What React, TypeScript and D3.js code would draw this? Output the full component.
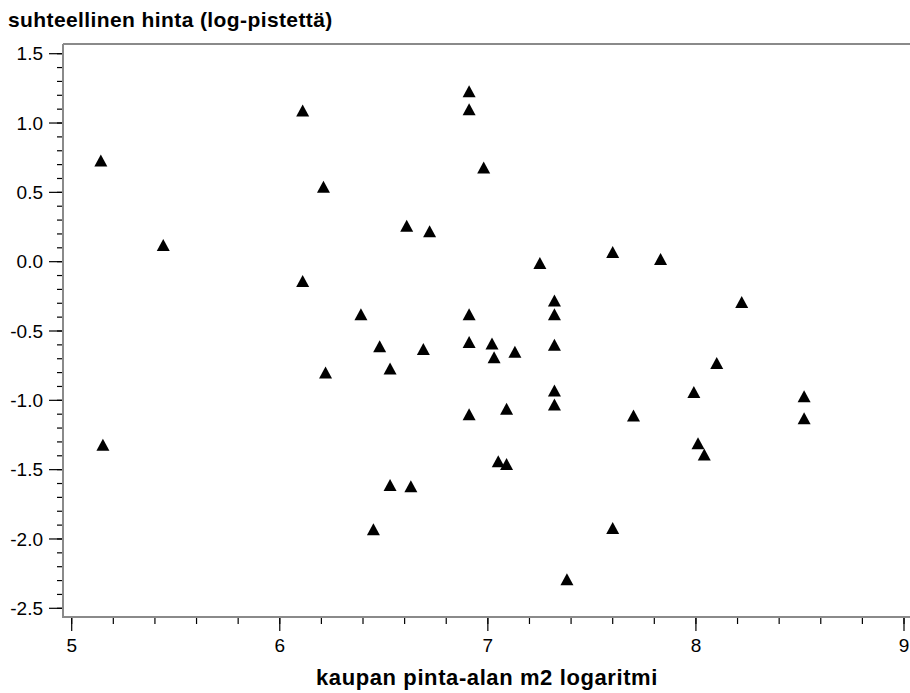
import React from "react";
import * as d3 from "d3";

const xValues = [
  5.14, 5.15, 5.44, 6.11, 6.21, 6.11, 6.22, 6.39, 6.91, 6.91, 6.98, 6.61, 6.72, 7.60, 7.25,
  7.32, 7.32, 6.91, 6.48, 6.69, 6.91, 7.02, 7.13, 7.32, 7.03, 6.53, 7.32, 7.32, 7.09, 6.91,
  7.70, 7.05, 7.09, 6.53, 6.63, 6.45, 7.60, 7.38, 7.83, 8.22, 8.10, 7.99, 8.52, 8.52, 8.01, 8.04,
];
const yValues = [
  0.73, -1.32, 0.12, 1.09, 0.54, -0.14, -0.80, -0.38, 1.23, 1.10, 0.68, 0.26, 0.22, 0.07, -0.01,
  -0.28, -0.38, -0.38, -0.61, -0.63, -0.58, -0.59, -0.65, -0.60, -0.69, -0.77, -0.93, -1.03, -1.06, -1.10,
  -1.11, -1.44, -1.46, -1.61, -1.62, -1.93, -1.92, -2.29, 0.02, -0.29, -0.73, -0.94, -0.97, -1.13, -1.31, -1.39,
];
const xTicks = [5, 6, 7, 8, 9];
const yTicks = [1.5, 1.0, 0.5, 0.0, -0.5, -1.0, -1.5, -2.0, -2.5];
const title = "suhteellinen hinta (log-pistettä)";
const xTitle = "kaupan pinta-alan m2 logaritmi";

const W = 910;
const H = 693;
const axisLeft = 63;
const axisBottom = 617;
const plotTop = 44;
const FONT = "'Liberation Sans', Arial, sans-serif";

export default function App() {
  const x = d3.scaleLinear().domain([5, 9]).range([71.7, 904]);
  const y = d3.scaleLinear().domain([-2.5, 1.5]).range([608.3, 53.7]);

  const xMinor = d3.range(5, 9.0001, 0.2).map((v) => +v.toFixed(2));
  const yMinor = d3.range(-2.5, 1.5001, 0.1).map((v) => +v.toFixed(2));

  const tri = (cx: number, cy: number) => {
    const p = d3.path();
    const hw = 6.5;
    const hh = 6;
    p.moveTo(cx, cy - hh);
    p.lineTo(cx + hw, cy + hh);
    p.lineTo(cx - hw, cy + hh);
    p.closePath();
    return p.toString();
  };

  return (
    <svg
      width={W}
      height={H}
      style={{ position: "absolute", left: 0, top: 0, background: "#fff" }}
      fontFamily={FONT}
    >
      <rect x={0} y={0} width={W} height={H} fill="#fff" />
      <text x={8} y={27} fontSize={21} fontWeight="bold" fill="#000" letterSpacing={0.4}>
        {title}
      </text>

      {/* top frame */}
      <line x1={axisLeft} x2={W} y1={plotTop} y2={plotTop} stroke="#8a8a8a" strokeWidth={2} />

      {/* y minor ticks */}
      {yMinor.map((v, i) => (
        <line key={"ym" + i} x1={57} x2={axisLeft} y1={y(v)} y2={y(v)} stroke="#000" strokeWidth={1.2} />
      ))}
      {yTicks.map((v, i) => (
        <g key={"yt" + i}>
          <line x1={49} x2={axisLeft} y1={y(v)} y2={y(v)} stroke="#000" strokeWidth={1.2} />
          <text x={43} y={y(v)} dy="0.35em" textAnchor="end" fontSize={19} fill="#000">
            {v.toFixed(1)}
          </text>
        </g>
      ))}

      {/* x minor ticks */}
      {xMinor.map((v, i) => (
        <line key={"xm" + i} x1={x(v)} x2={x(v)} y1={axisBottom} y2={624} stroke="#000" strokeWidth={1.2} />
      ))}
      {xTicks.map((v, i) => (
        <g key={"xt" + i}>
          <line x1={x(v)} x2={x(v)} y1={axisBottom} y2={631} stroke="#000" strokeWidth={1.2} />
          <text x={x(v)} y={652} textAnchor="middle" fontSize={19} fill="#000">
            {String(v)}
          </text>
        </g>
      ))}

      {/* axes lines */}
      <line x1={axisLeft} x2={axisLeft} y1={plotTop} y2={axisBottom + 1} stroke="#8a8a8a" strokeWidth={2} />
      <line x1={axisLeft} x2={W} y1={axisBottom} y2={axisBottom} stroke="#8a8a8a" strokeWidth={2} />

      {/* points */}
      {xValues.map((xv, i) => (
        <path key={"p" + i} d={tri(x(xv), y(yValues[i]))} fill="#000" />
      ))}

      <text x={487} y={685} textAnchor="middle" fontSize={22} fontWeight="bold" fill="#000" letterSpacing={0.6}>
        {xTitle}
      </text>
    </svg>
  );
}
